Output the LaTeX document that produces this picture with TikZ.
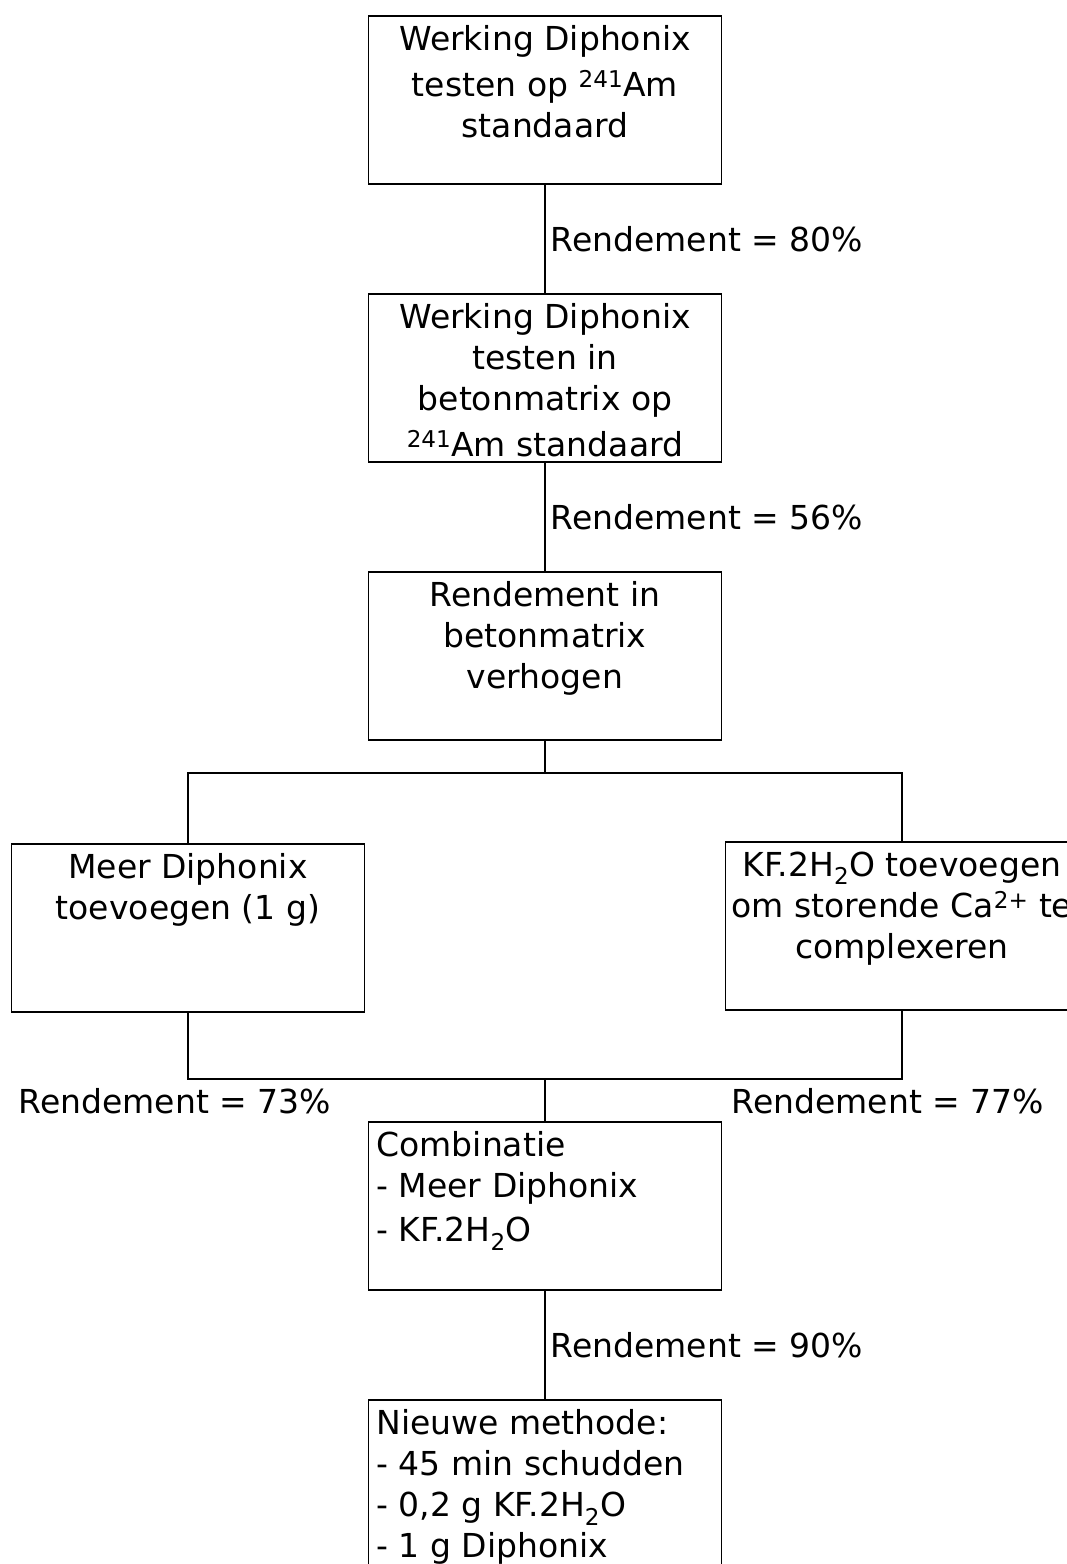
\documentclass[tikz,border=0pt]{standalone}
\usepackage{fontspec}
\setmainfont{DejaVu Sans}
\usepackage{tikz}

\newcommand{\midden}[1]{\parbox[t][148pt][t]{353pt}{\centering #1}}
\newcommand{\links}[1]{\parbox[t][148pt][t]{337pt}{\raggedright #1}}
\tikzset{stap/.style={draw,anchor=north,inner xsep=0pt,inner ysep=10pt,minimum width=353pt},
lijst/.style={stap,inner xsep=8pt},
rend/.style={inner sep=5pt,anchor=west}}

\begin{document}
\begin{tikzpicture}[x=1pt,y=-1pt,font=\fontsize{33}{41}\selectfont,line width=1.5pt]
\clip (0,0) rectangle (1067,1564);
% stappen
\node[stap] (test) at (545,15) {\midden{Werking Diphonix\\[5pt]testen op \textsuperscript{241}Am\\standaard}};
\node[stap] (matrix) at (545,293) {\midden{Werking Diphonix\\testen in\\betonmatrix op\\[5pt]\textsuperscript{241}Am standaard}};
\node[stap] (verhogen) at (545,571) {\midden{Rendement in\\betonmatrix\\verhogen}};
\node[stap] (meer) at (188,843) {\midden{Meer Diphonix\\toevoegen (1 g)}};
\node[stap] (kf) at (902,841) {\midden{KF.2H\textsubscript{2}O toevoegen\\om storende Ca\textsuperscript{2+} te\\complexeren}};
\node[lijst] (combi) at (545,1121) {\links{Combinatie\\- Meer Diphonix\\[3pt]- KF.2H\textsubscript{2}O}};
\node[lijst] (nieuw) at (545,1399) {\links{Nieuwe methode:\\- 45 min schudden\\- 0,2 g KF.2H\textsubscript{2}O\\- 1 g Diphonix}};
% verbindingen
\draw (test) -- node[rend]{Rendement = 80\%} (matrix);
\draw (matrix) -- node[rend]{Rendement = 56\%} (verhogen);
\coordinate (splits) at (545,773);
\draw (verhogen) -- (splits) -| (meer.north);
\draw (splits) -| (kf.north);
\coordinate (samen) at (545,1079);
\draw (meer.south) |- (samen) -- (combi);
\draw (kf.south) |- (samen);
\node[rend] (r73) at (13,1101) {Rendement = 73\%};
\node[rend] (r77) at (726,1101) {Rendement = 77\%};
\draw (combi) -- node[rend]{Rendement = 90\%} (nieuw);
\end{tikzpicture}
\end{document}
